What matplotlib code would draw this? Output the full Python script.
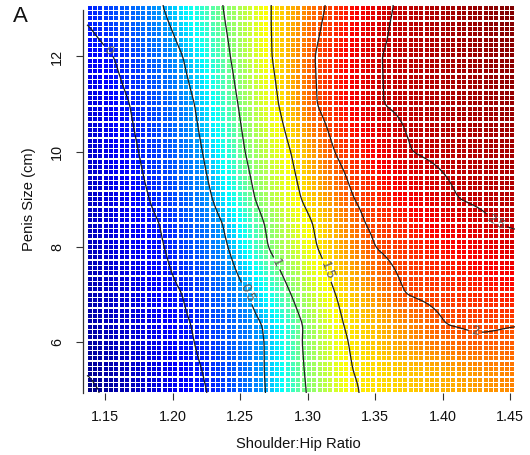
import numpy as np
import matplotlib
matplotlib.use("Agg")
import matplotlib.pyplot as plt
from matplotlib.colors import LinearSegmentedColormap, Normalize

plt.rcParams["font.family"] = ["Liberation Sans", "DejaVu Sans"]

# Fitted surface, sampled along horizontal transects (penis size, cm).
# Each transect lists shoulder:hip positions and the surface value there.
ROW_Y = [4.94, 5.4, 6.0, 6.35, 7.0, 8.0, 8.5, 9.0, 10.0, 11.0, 12.0, 12.7, 13.08]
ROW_X = [
    [1.1367, 1.1460, 1.2263, 1.2693, 1.2989, 1.3367, 1.4537],
    [1.1367, 1.2226, 1.2685, 1.2974, 1.3322, 1.4537],
    [1.1367, 1.2167, 1.2685, 1.2959, 1.3293, 1.3870, 1.4204, 1.4537],
    [1.1367, 1.2144, 1.2670, 1.2966, 1.3260, 1.4026, 1.4300, 1.4537],
    [1.1367, 1.2078, 1.2567, 1.2878, 1.3204, 1.3719, 1.4537],
    [1.1367, 1.1944, 1.2415, 1.2707, 1.3070, 1.3493, 1.4537],
    [1.1367, 1.1907, 1.2374, 1.2678, 1.3037, 1.3419, 1.4389, 1.4537],
    [1.1367, 1.1833, 1.2300, 1.2611, 1.2953, 1.3342, 1.4115, 1.4537],
    [1.1367, 1.1752, 1.2226, 1.2537, 1.2876, 1.3196, 1.3763, 1.4537],
    [1.1367, 1.1685, 1.2167, 1.2485, 1.2786, 1.3066, 1.3552, 1.4537],
    [1.1367, 1.1567, 1.2080, 1.2430, 1.2737, 1.3051, 1.3541, 1.4537],
    [1.1367, 1.1978, 1.2394, 1.2730, 1.3103, 1.3599, 1.4537],
    [1.1367, 1.1930, 1.2374, 1.2730, 1.3130, 1.3626, 1.4537],
]
ROW_Z = [
    [-0.57, -0.5, 0.0, 0.5, 1.0, 1.5, 1.82],
    [-0.49, 0.0, 0.5, 1.0, 1.5, 1.86],
    [-0.45, 0.0, 0.5, 1.0, 1.5, 1.85, 1.96, 1.95],
    [-0.43, 0.0, 0.5, 1.0, 1.5, 2.0, 2.03, 2.0],
    [-0.40, 0.0, 0.5, 1.0, 1.5, 2.0, 2.18],
    [-0.36, 0.0, 0.5, 1.0, 1.5, 2.0, 2.42],
    [-0.35, 0.0, 0.5, 1.0, 1.5, 2.0, 2.5, 2.53],
    [-0.33, 0.0, 0.5, 1.0, 1.5, 2.0, 2.5, 2.6],
    [-0.30, 0.0, 0.5, 1.0, 1.5, 2.0, 2.5, 2.68],
    [-0.25, 0.0, 0.5, 1.0, 1.5, 2.0, 2.5, 2.75],
    [-0.14, 0.0, 0.5, 1.0, 1.5, 2.0, 2.5, 2.8],
    [0.0, 0.5, 1.0, 1.5, 2.0, 2.5, 2.83],
    [0.03, 0.5, 1.0, 1.5, 2.0, 2.5, 2.86],
]

# colour ramp: surface value at which each colour is reached
COLOR_VALUES = [-0.57, -0.1, 0.4, 0.7, 1.0, 1.45, 1.85, 2.25, 2.86]
COLOR_HEX = ["#00007F", "#0000FF", "#007FFF", "#00FFFF", "#7FFF7F",
             "#FFFF00", "#FF7F00", "#FF0000", "#7F0000"]

UNLABELLED_LEVELS = [-0.5]
LABELLED_LEVELS = [0.0, 0.5, 1.0, 1.5, 2.0, 2.5]
LABEL_SPOTS = [(1.1522, 12.11), (1.2552, 7.03), (1.2796, 7.69),
               (1.3115, 7.48), (1.4241, 6.19), (1.4389, 8.50)]

X_TICKS = [1.15, 1.20, 1.25, 1.30, 1.35, 1.40, 1.45]
Y_TICKS = [6, 8, 10, 12]

# grid of evaluation cells
X_MIN, X_MAX = 1.1367, 1.4537
Y_MIN, Y_MAX = 4.936, 13.08
NX, NY = 80, 73


def surface(xq, yq):
    rows = np.array([np.interp(xq, rx, rz) for rx, rz in zip(ROW_X, ROW_Z)])
    out = np.empty((len(yq), len(xq)))
    for j in range(len(xq)):
        out[:, j] = np.interp(yq, ROW_Y, rows[:, j])
    return out


def smooth(z, width):
    # separable moving-average with edge padding
    k = np.ones(width) / width
    pad = width // 2
    zp = np.pad(z, pad, mode="edge")
    zp = np.apply_along_axis(lambda r: np.convolve(r, k, mode="same"), 1, zp)
    zp = np.apply_along_axis(lambda c: np.convolve(c, k, mode="same"), 0, zp)
    return zp[pad:-pad, pad:-pad]


xe = np.linspace(X_MIN, X_MAX, NX + 1)
ye = np.linspace(Y_MIN, Y_MAX, NY + 1)
xc = 0.5 * (xe[:-1] + xe[1:])
yc = 0.5 * (ye[:-1] + ye[1:])
Z = surface(xc, yc)

# finer evaluation for the contour lines
xf = np.linspace(X_MIN, X_MAX, 330)
yf = np.linspace(Y_MIN, Y_MAX, 320)
Zf = smooth(surface(xf, yf), 9)

vmin, vmax = COLOR_VALUES[0], COLOR_VALUES[-1]
stops = [((v - vmin) / (vmax - vmin), c) for v, c in zip(COLOR_VALUES, COLOR_HEX)]
ramp = LinearSegmentedColormap.from_list("ramp", stops)
norm = Normalize(vmin=vmin, vmax=vmax)

W, H = 530, 455
fig = plt.figure(figsize=(W / 100, H / 100), dpi=100)
ax = fig.add_axes([83 / W, 1 - 393 / H, (515 - 83) / W, (393 - 5) / H])

# one filled square per cell, white showing through the gaps
XX, YY = np.meshgrid(xc, yc)
ax.scatter(XX.ravel(), YY.ravel(), c=Z.ravel(), cmap=ramp, norm=norm,
           marker="s", s=8.3, linewidths=0, zorder=3)

line_style = dict(colors="#1e1e1e", linewidths=0.9, zorder=4)
ax.contour(xf, yf, Zf, levels=UNLABELLED_LEVELS, **line_style)
cs = ax.contour(xf, yf, Zf, levels=LABELLED_LEVELS, **line_style)
labels = ax.clabel(cs, manual=LABEL_SPOTS, fmt="%g", fontsize=9.5,
                   inline=True, inline_spacing=3)
for t in labels:
    t.set_color("#555555")
    t.set_zorder(5)

ax.set_xlim(1.1337, 1.4537)
ax.set_ylim(Y_MIN, Y_MAX)

for side in ("top", "right", "bottom"):
    ax.spines[side].set_visible(False)
ax.spines["left"].set_color("#333333")
ax.spines["left"].set_linewidth(0.9)
ax.spines["left"].set_bounds(Y_MIN, 12.97)
ax.spines["left"].set_zorder(1)

ax.set_xticks(X_TICKS)
ax.set_xticklabels([f"{v:.2f}" for v in X_TICKS])
ax.set_yticks(Y_TICKS)
ax.set_yticklabels([str(v) for v in Y_TICKS], rotation=90, va="center")
ax.tick_params(axis="both", direction="out", length=5, width=0.8,
               color="#333333", labelsize=10.4, labelcolor="#111111")
ax.tick_params(axis="x", pad=7)
ax.tick_params(axis="y", pad=8.5)

fig.text(298 / W, 1 - 444 / H, "Shoulder:Hip Ratio", ha="center", va="center",
         fontsize=10.6, color="#111111")
fig.text(29 / W, 1 - 199 / H, "Penis Size (cm)", ha="center", va="center",
         rotation=90, fontsize=10.6, color="#111111")
fig.text(20 / W, 1 - 16 / H, "A", ha="center", va="center", fontsize=16,
         color="#111111")

fig.savefig("out.png", dpi=100)
